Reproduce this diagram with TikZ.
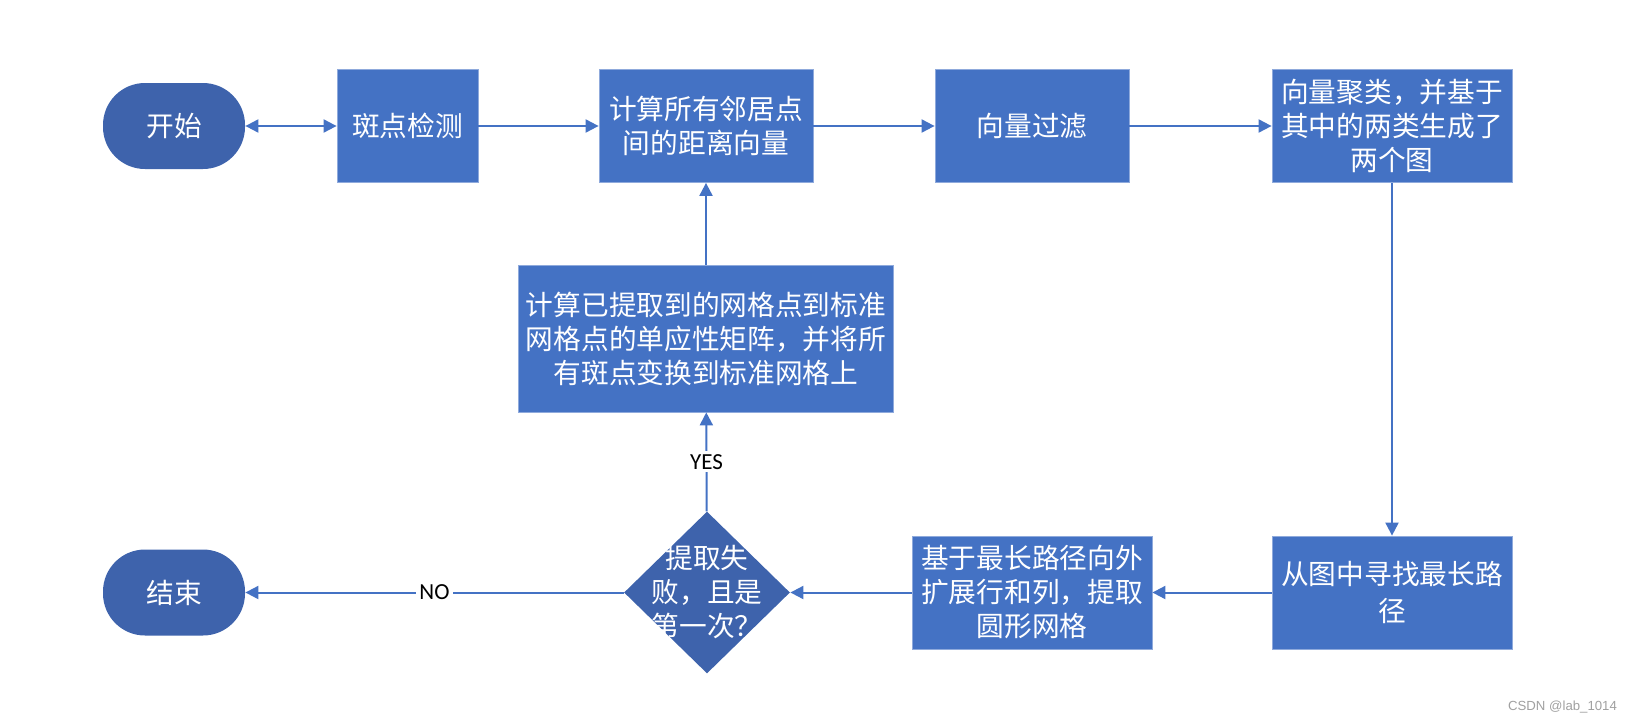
\documentclass[tikz,border=0pt]{standalone}
\usepackage{fontspec}
\setmainfont{Carlito}
\newfontfamily\cjk{Noto Sans CJK SC}
\newfontfamily\wmfont{Liberation Sans}
\usetikzlibrary{shapes.geometric,arrows.meta}
\definecolor{boxblue}{RGB}{68,114,196}
\definecolor{termblue}{RGB}{62,99,172}
\definecolor{rimblue}{RGB}{143,170,220}
\definecolor{lineblue}{RGB}{68,114,196}
\definecolor{wmgray}{RGB}{160,160,160}

\begin{document}
\begin{tikzpicture}[x=0.5pt,y=-0.5pt]
\tikzstyle{every node}+=[inner sep=0pt]
\tikzstyle{proc}=[draw=rimblue, line width=0.4pt, fill=boxblue, text=white, align=center,
  minimum height=56.5pt, font={\fontsize{13.85}{17}\selectfont\cjk}]
\tikzstyle{term}=[fill=termblue, text=white, rounded corners=21pt, minimum width=71pt,
  minimum height=43pt, font={\fontsize{13.85}{17}\selectfont\cjk}]
\tikzstyle{decision}=[diamond, fill=termblue, minimum width=83pt, minimum height=81pt]
\tikzstyle{flow}=[draw=lineblue, line width=1pt, -{Triangle[length=6.5pt,width=6.5pt]}]
\tikzstyle{lbl}=[fill=white, text=black, inner sep=1.5pt, font=\fontsize{11.5}{13}\selectfont]
\useasboundingbox (0,0) rectangle (1632,723);
% top row
\node[term] (start) at (174,126) {开始};
\node[proc, minimum width=70.5pt] (detect) at (407.5,126) {斑点检测};
\node[proc, minimum width=107pt] (dist) at (706,126) {计算所有邻居点\\间的距离向量};
\node[proc, minimum width=97pt] (filter) at (1032,126) {向量过滤};
\node[proc, minimum width=120pt] (cluster) at (1392,126) {向量聚类，并基于\\其中的两类生成了\\两个图};
% bottom row
\node[proc, minimum width=120pt, font={\fontsize{13.85}{18.5}\selectfont\cjk}] (longest) at (1392,592.5) {从图中寻找最长路\\径};
\node[proc, minimum width=120pt] (expand) at (1032,592.5) {基于最长路径向外\\扩展行和列，提取\\圆形网格};
\node[decision] (check) at (707,592.5) {};
\node[text=white, align=center, font={\fontsize{13.85}{17}\selectfont\cjk}] (checktext) at (check) {提取失\\败，且是\\第一次？};
\node[term] (stop) at (174,592.5) {结束};
% middle
\node[proc, minimum width=187.5pt, minimum height=73.5pt] (homog) at (706,338.5) {计算已提取到的网格点到标准\\网格点的单应性矩阵，并将所\\有斑点变换到标准网格上};
% connectors
\draw[flow, {Triangle[length=6.5pt,width=6.5pt]}-{Triangle[length=6.5pt,width=6.5pt]}] (start) -- (detect);
\draw[flow] (detect) -- (dist);
\draw[flow] (dist) -- (filter);
\draw[flow] (filter) -- (cluster);
\draw[flow] (cluster) -- (longest);
\draw[flow] (longest) -- (expand);
\draw[flow] (expand) -- (check);
\draw[flow] (check) -- node[lbl] {NO} (stop);
\draw[flow] (check) -- node[lbl] {YES} (homog);
\draw[flow] (homog) -- (dist);
\node[text=wmgray, font={\fontsize{6.6}{8}\selectfont\wmfont}] (mark) at (1562.5,707) {CSDN @lab\_1014};
\end{tikzpicture}
\end{document}
